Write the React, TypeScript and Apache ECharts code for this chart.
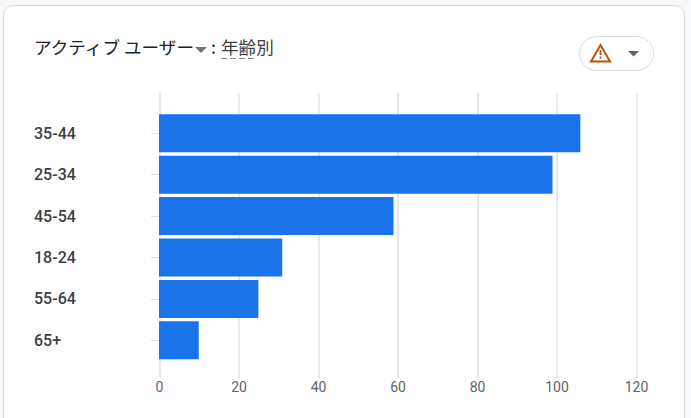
import React, { useEffect, useRef } from "react";
import * as echarts from "echarts";

const categories = ["35-44", "25-34", "45-54", "18-24", "55-64", "65+"];
const activeUsers = [106, 99, 59, 31, 25, 10];
const titleMetric = "アクティブ ユーザー";
const titleDimension = "年齢別";

export default function App() {
  const ref = useRef<HTMLDivElement>(null);
  useEffect(() => {
    document.body.style.margin = "0";
    const chart = echarts.init(ref.current!, null, { renderer: "svg" });
    const xBase = { type: "value", min: 0, max: 120, interval: 20 };
    chart.setOption({
      animation: false,
      backgroundColor: "#f8f9fa",
      grid: [
        { left: 159.5, width: 477, top: 93, height: 285, z: 1 },
        { left: 159, width: 477, top: 112.5, height: 248.5, z: 2 },
      ],
      xAxis: [
        {
          ...xBase,
          gridIndex: 0,
          axisLine: { show: false },
          axisTick: { show: false },
          axisLabel: { color: "#5f6368", fontFamily: "Roboto", fontSize: 14, margin: 2 },
          splitLine: { show: true, lineStyle: { color: "#e0e0e0", width: 1.5 } },
        },
        {
          ...xBase,
          gridIndex: 1,
          show: false,
        },
      ],
      yAxis: [
        { type: "category", gridIndex: 0, show: false, data: categories, inverse: true },
        {
          type: "category",
          gridIndex: 1,
          data: categories,
          inverse: true,
          axisLine: { show: false },
          axisTick: { show: true, alignWithLabel: true, length: 8, lineStyle: { color: "#e0e0e0", width: 1 } },
          axisLabel: {
            align: "left",
            margin: 125,
            color: "#3c4043",
            fontFamily: "Roboto",
            fontWeight: 500,
            fontSize: 16,
          },
        },
      ],
      series: [
        {
          type: "bar",
          xAxisIndex: 1,
          yAxisIndex: 1,
          data: activeUsers,
          barWidth: 38,
          itemStyle: { color: "#1a73e8" },
          z: 5,
        },
      ],
      graphic: [
        {
          type: "rect",
          z: -1,
          shape: { x: 3.5, y: 5.5, width: 681, height: 440, r: 10 },
          style: { fill: "#ffffff", stroke: "#dadce0", lineWidth: 1 },
        },
        {
          type: "text",
          x: 34,
          y: 37.5,
          style: { text: titleMetric, fill: "#202124", font: '400 17.6px "Noto Sans CJK JP"' },
        },
        {
          type: "polygon",
          shape: { points: [[195, 47], [207, 47], [201, 53]] },
          style: { fill: "#757575" },
        },
        {
          type: "text",
          x: 211,
          y: 37.5,
          style: { text: ":", fill: "#202124", font: '400 17.6px "Noto Sans CJK JP"' },
        },
        {
          type: "text",
          x: 221,
          y: 37.5,
          style: { text: titleDimension, fill: "#3c4043", font: '400 17.6px "Noto Sans CJK JP"' },
        },
        {
          type: "line",
          shape: { x1: 221, y1: 58.5, x2: 256, y2: 58.5 },
          style: { stroke: "#80868b", lineWidth: 1, lineDash: [6, 3] },
        },
        {
          type: "rect",
          shape: { x: 579.5, y: 36.5, width: 74, height: 34, r: 17 },
          style: { fill: "#ffffff", stroke: "#dadce0", lineWidth: 1 },
        },
        {
          type: "polygon",
          shape: { points: [[600.5, 45], [610, 61.5], [591, 61.5]] },
          style: { fill: "#ffffff", stroke: "#b8520a", lineWidth: 2 },
        },
        {
          type: "rect",
          shape: { x: 599.6, y: 50, width: 1.8, height: 5 },
          style: { fill: "#b8520a" },
        },
        {
          type: "rect",
          shape: { x: 599.6, y: 56.5, width: 1.8, height: 2 },
          style: { fill: "#b8520a" },
        },
        {
          type: "polygon",
          shape: { points: [[628, 51], [639, 51], [633.5, 56.5]] },
          style: { fill: "#5f6368" },
        },
      ],
    });
    return () => chart.dispose();
  }, []);
  return <div ref={ref} style={{ width: 691, height: 418 }} />;
}
